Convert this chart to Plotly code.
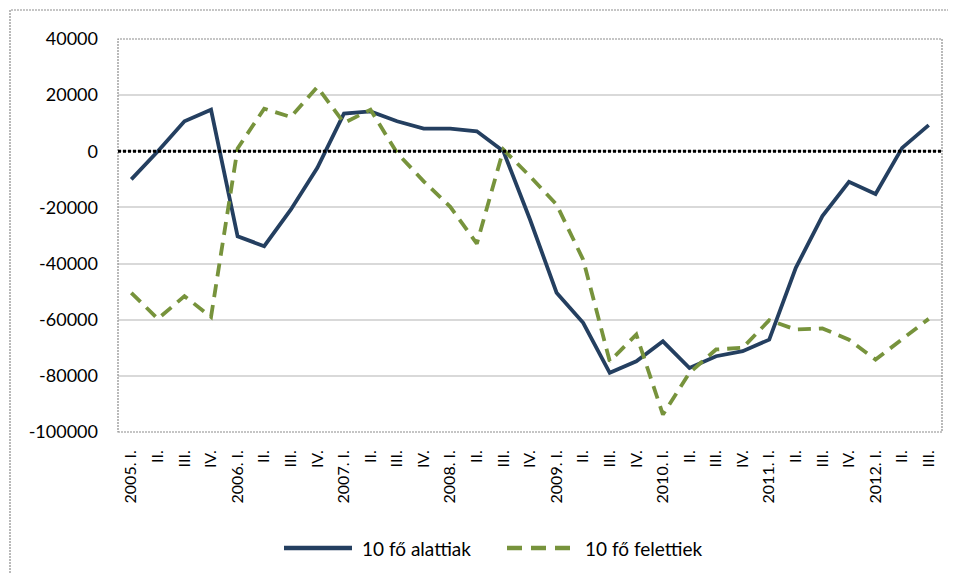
import plotly.graph_objects as go

years = ["2005", "2006", "2007", "2008", "2009", "2010", "2011", "2012"]
quarters = ["I.", "II.", "III.", "IV."]
categories = []
for y in years:
    for q in quarters:
        categories.append(f"{y}. {q}" if q == "I." else q)
categories = categories[:31]
cat_keys = [str(i) for i in range(len(categories))]

y_tickvals = [40000, 20000, 0, -20000, -40000, -60000, -80000, -100000]
y_ticktext = ["40000", "20000", "0", "-20000", "-40000", "-60000", "-80000", "-100000"]

series_names = ["10 fő alattiak", "10 fő felettiek"]
alattiak = [-10000, 0, 10700, 14800, -30300, -33800, -20800, -5900,
            13400, 14200, 10700, 8100, 8100, 7100, 0, -24300,
            -50400, -61100, -78900, -74800, -67700, -77200, -73000, -71200,
            -67100, -41500, -23100, -10900, -15200, 1200, 9300]
felettiek = [-50400, -59700, -51600, -59000, 1000, 15200, 12200, 22900,
             10100, 14800, -600, -10700, -19800, -32900, 600, -8900,
             -19000, -38600, -74800, -65300, -93800, -78900, -70600, -70000,
             -60200, -63500, -63100, -67100, -74200, -67100, -59700]

BLUE = "#243F60"
GREEN = "#77933C"
FONT = "Lato, Open Sans, sans-serif"

fig = go.Figure()
fig.add_trace(go.Scatter(x=cat_keys, y=alattiak, mode="lines", name=series_names[0],
                         line=dict(color=BLUE, width=3.8), showlegend=False))
fig.add_trace(go.Scatter(x=cat_keys, y=felettiek, mode="lines", name=series_names[1],
                         line=dict(color=GREEN, width=3.8, dash="13px,8px"), showlegend=False))

# page body has an 8px margin; figure placed at (8,8)
W, H = 940, 565
L, T = 110, 31
pw, ph = 824, 393
R = W - L - pw
B = H - T - ph

fig.update_layout(
    width=W, height=H,
    margin=dict(l=L, r=R, t=T, b=B, autoexpand=False),
    paper_bgcolor="white", plot_bgcolor="white",
    font=dict(family=FONT, color="black"),
    xaxis=dict(type="category", tickmode="array", tickvals=cat_keys, ticktext=categories,
               tickangle=-90, tickfont=dict(size=16), showgrid=False, zeroline=False,
               range=[-0.5, 30.5], showline=False, ticks="", ticklabelstandoff=14),
    yaxis=dict(range=[-100000, 40000], tickmode="array",
               tickvals=y_tickvals, ticktext=y_ticktext,
               tickfont=dict(size=18),
               showgrid=True, gridcolor="#D9D9D9", gridwidth=1.6, zeroline=False,
               ticks="", ticklabelstandoff=19),
)

# plot area border (dotted gray)
fig.add_shape(type="rect", xref="paper", yref="paper", x0=0, x1=1, y0=0, y1=1,
              line=dict(color="#8C8C8C", width=1.2, dash="2px,1px"), layer="above")
# zero line (black dotted)
fig.add_shape(type="line", xref="paper", yref="y", x0=0, x1=1, y0=0, y1=0,
              line=dict(color="black", width=3, dash="3px,2px"), layer="above")
# outer chart border (top and left visible)
fig.add_shape(type="rect", xref="paper", yref="paper",
              x0=(2 - L) / pw, x1=(W + 20 - L) / pw,
              y0=-(H + 20 - T - ph) / ph, y1=1 + (T - 2) / ph,
              line=dict(color="#8C8C8C", width=1.2, dash="2px,1px"))

# custom legend
ly = (T + ph - 540) / ph
def px(fx):
    return (fx - L) / pw
fig.add_shape(type="line", xref="paper", yref="paper", x0=px(276), x1=px(344), y0=ly, y1=ly,
              line=dict(color=BLUE, width=4.5))
fig.add_annotation(xref="paper", yref="paper", x=px(352), y=ly, text=series_names[0],
                   showarrow=False, xanchor="left", yanchor="middle",
                   font=dict(size=19, family=FONT, color="black"))
fig.add_shape(type="line", xref="paper", yref="paper", x0=px(499), x1=px(562), y0=ly, y1=ly,
              line=dict(color=GREEN, width=4.5, dash="15px,9px"))
fig.add_annotation(xref="paper", yref="paper", x=px(575), y=ly, text=series_names[1],
                   showarrow=False, xanchor="left", yanchor="middle",
                   font=dict(size=19, family=FONT, color="black"))

fig.write_html("out.html")
